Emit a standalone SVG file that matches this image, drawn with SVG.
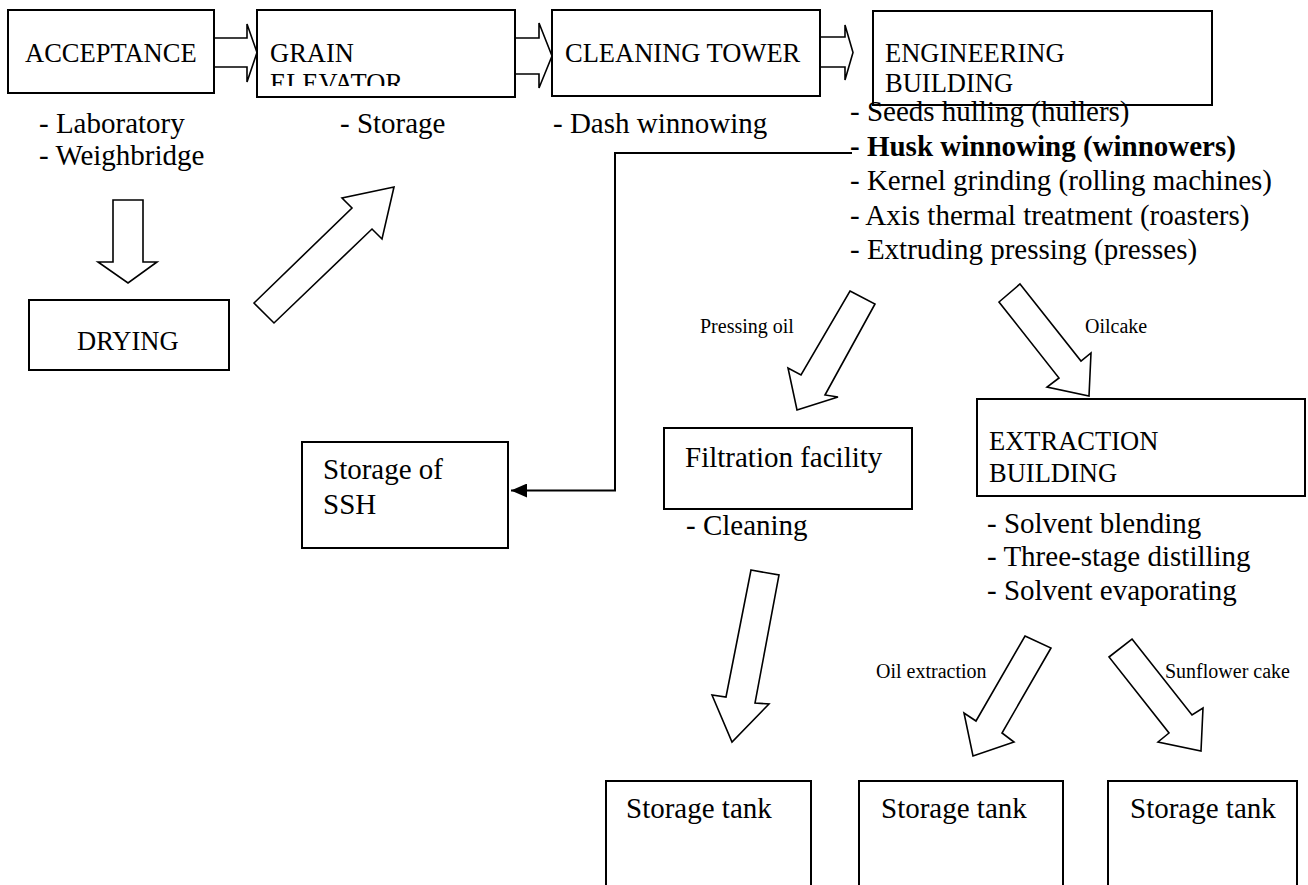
<svg xmlns="http://www.w3.org/2000/svg" width="1308" height="885" viewBox="0 0 1308 885">
<style>
  .box { fill: #ffffff; stroke: #000000; stroke-width: 2; }
  .blk { fill: #ffffff; stroke: #000000; stroke-width: 1.6; stroke-linejoin: miter; }
  .cap { font-family: "Liberation Serif", "Times New Roman", serif; font-size: 26.5px; fill: #000000; }
  .txt { font-family: "Liberation Serif", "Times New Roman", serif; font-size: 29px; fill: #000000; }
  .bold { font-weight: bold; }
  .lbl { font-family: "Liberation Serif", "Times New Roman", serif; font-size: 20px; fill: #000000; }
  .conn { fill: none; stroke: #000000; stroke-width: 2; }
</style>
<defs>
  <marker id="tri" markerUnits="userSpaceOnUse" markerWidth="18" markerHeight="14" refX="16" refY="7" orient="auto">
    <path d="M0,0 L16,7 L0,14 Z" fill="#000000"/>
  </marker>
  <clipPath id="grainClip">
    <rect x="258" y="11" width="256" height="75"/>
  </clipPath>
</defs>
<rect x="0" y="0" width="1308" height="885" fill="#ffffff"/>

<g id="connectors">
  <polygon class="blk" points="214,38 247,38 247,24 257,52.5 247,82 247,67 214,67"/>
  <polygon class="blk" points="515,38 539,38 539,23 552,56 539,88 539,74 515,74"/>
  <polygon class="blk" points="820,37 845,37 845,25 853,52.5 845,80 845,67 820,67"/>
  <polygon class="blk" points="113,200 143,200 143,262 157,262 128,283 98,262 113,262"/>
  <polygon class="blk" points="254,303 352,208 342,198 394,187 382,239 372,229 274,323"/>
  <polygon class="blk" points="850,291 875,304 825,395 838,397 797,410 788,368 801,375"/>
  <polygon class="blk" points="1020,284 1081,361 1091,353 1089,396 1047,387 1059,378 999,302"/>
  <polygon class="blk" points="751,570 779,575 755,703 769,704 732,742 712,695 726,697"/>
  <polygon class="blk" points="1025,636 1051,648 1002,733 1014,742 973,756 964,713 976,721"/>
  <polygon class="blk" points="1132,639 1192,715 1203,708 1201,751 1158,742 1169,733 1109,657"/>
  <path class="conn" d="M852,153 L615,153 L615,490.5 L511,490.5" marker-end="url(#tri)"/>
  <text class="lbl" x="700" y="333">Pressing oil</text>
  <text class="lbl" x="1085" y="333">Oilcake</text>
  <text class="lbl" x="876" y="678">Oil extraction</text>
  <text class="lbl" x="1165" y="678">Sunflower cake</text>
</g>

<g id="acceptance">
  <rect class="box" x="8" y="10" width="206" height="83"/>
  <text class="cap" x="25" y="62">ACCEPTANCE</text>
  <text class="txt" x="39" y="133">- Laboratory</text>
  <text class="txt" x="39" y="165">- Weighbridge</text>
</g>

<g id="grain-elevator">
  <rect class="box" x="257" y="10" width="258" height="87"/>
  <g clip-path="url(#grainClip)">
    <text class="cap" x="270" y="62">GRAIN</text>
    <text class="cap" x="270" y="92">ELEVATOR</text>
  </g>
  <text class="txt" x="340" y="133">- Storage</text>
</g>

<g id="cleaning-tower">
  <rect class="box" x="552" y="10" width="268" height="86"/>
  <text class="cap" x="565" y="62">CLEANING TOWER</text>
  <text class="txt" x="553" y="133">- Dash winnowing</text>
</g>

<g id="engineering-building">
  <rect class="box" x="873" y="11" width="339" height="94"/>
  <text class="cap" x="885" y="62">ENGINEERING</text>
  <text class="cap" x="885" y="92">BUILDING</text>
  <text class="txt" x="850" y="121">- Seeds hulling (hullers)</text>
  <text class="txt bold" x="850" y="155.5">- Husk winnowing (winnowers)</text>
  <text class="txt" x="850" y="190">- Kernel grinding (rolling machines)</text>
  <text class="txt" x="850" y="224.5">- Axis thermal treatment (roasters)</text>
  <text class="txt" x="850" y="259">- Extruding pressing (presses)</text>
</g>

<g id="drying">
  <rect class="box" x="29" y="300" width="200" height="70"/>
  <text class="cap" x="77" y="350">DRYING</text>
</g>

<g id="storage-ssh">
  <rect class="box" x="302" y="442" width="206" height="106"/>
  <text class="txt" x="323" y="479">Storage of</text>
  <text class="txt" x="323" y="514">SSH</text>
</g>

<g id="filtration-facility">
  <rect class="box" x="664" y="428" width="248" height="81"/>
  <text class="txt" x="685" y="467">Filtration facility</text>
  <text class="txt" x="686" y="535">- Cleaning</text>
</g>

<g id="extraction-building">
  <rect class="box" x="977" y="399" width="328" height="97"/>
  <text class="cap" x="989" y="450">EXTRACTION</text>
  <text class="cap" x="989" y="482">BUILDING</text>
  <text class="txt" x="987" y="533">- Solvent blending</text>
  <text class="txt" x="987" y="566">- Three-stage distilling</text>
  <text class="txt" x="987" y="600">- Solvent evaporating</text>
</g>

<g id="storage-tank-1">
  <rect class="box" x="606" y="781" width="205" height="150"/>
  <text class="txt" x="626" y="818">Storage tank</text>
</g>

<g id="storage-tank-2">
  <rect class="box" x="859" y="781" width="204" height="150"/>
  <text class="txt" x="881" y="818">Storage tank</text>
</g>

<g id="storage-tank-3">
  <rect class="box" x="1108" y="781" width="189" height="150"/>
  <text class="txt" x="1130" y="818">Storage tank</text>
</g>
</svg>
